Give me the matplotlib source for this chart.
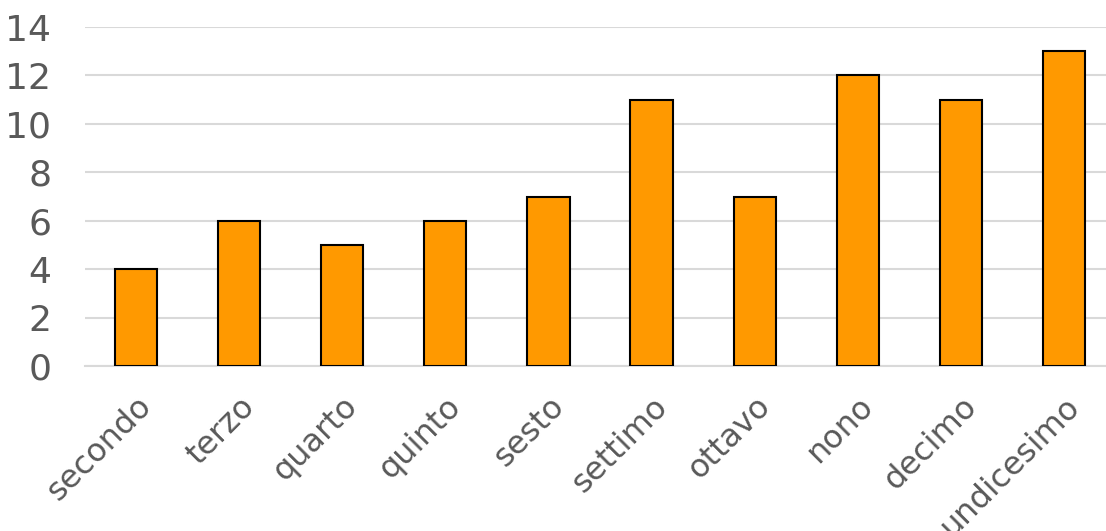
import matplotlib
matplotlib.use("Agg")
import matplotlib.pyplot as plt

categories = ["secondo", "terzo", "quarto", "quinto", "sesto",
              "settimo", "ottavo", "nono", "decimo", "undicesimo"]
values = [4, 6, 5, 6, 7, 11, 7, 12, 11, 13]
yticks = [0, 2, 4, 6, 8, 10, 12, 14]

plt.rcParams["font.family"] = ["DejaVu Sans"]
text_color = "#595959"

fig = plt.figure(figsize=(11.06, 5.31), dpi=100)
ax = fig.add_axes([84.5 / 1106, 165 / 531, 1031 / 1106, 339 / 531])

ax.bar(range(len(categories)), values, width=0.41, color="#FF9900",
       edgecolor="black", linewidth=1.5, zorder=3)

ax.set_xlim(-0.5, len(categories) - 0.5)
ax.set_ylim(0, 14)
ax.set_yticks(yticks)
ax.yaxis.grid(True, color="#D9D9D9", linewidth=1.5, zorder=0)
ax.set_axisbelow(True)

ax.set_xticks(range(len(categories)))
ax.set_xticklabels(categories, rotation=45, ha="right", rotation_mode="anchor")
ax.tick_params(axis="x", length=0, pad=18, labelsize=23, labelcolor=text_color)
ax.tick_params(axis="y", length=0, pad=24, labelsize=26, labelcolor=text_color)

for s in ["top", "right", "left"]:
    ax.spines[s].set_visible(False)
ax.spines["bottom"].set_color("#D9D9D9")
ax.spines["bottom"].set_linewidth(1.5)

fig.savefig("out.png", dpi=100)
